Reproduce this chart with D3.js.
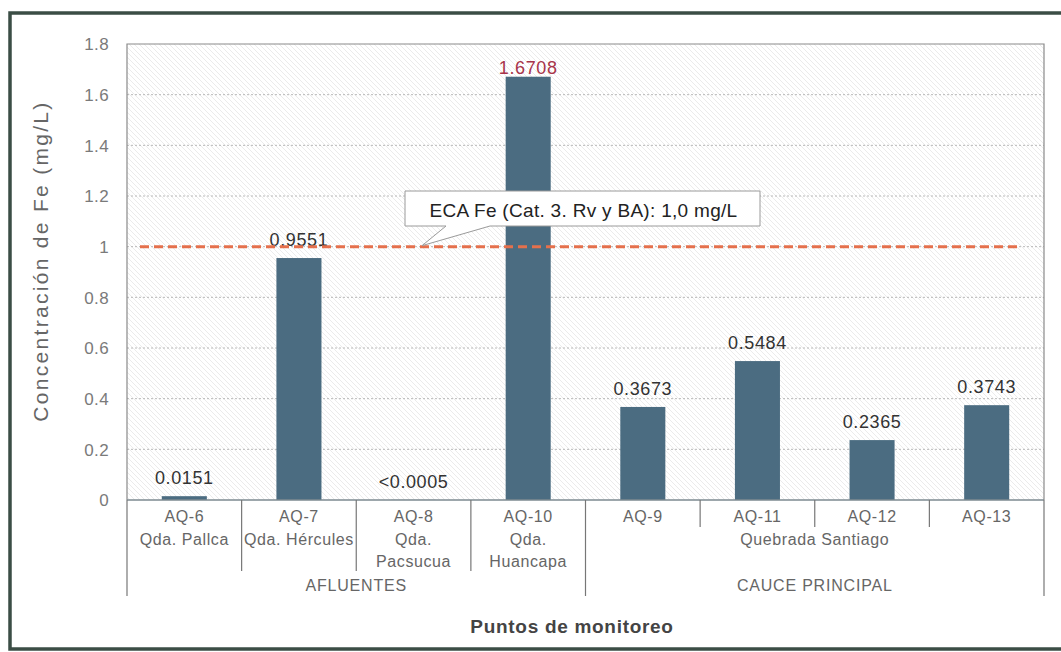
<!DOCTYPE html>
<html>
<head>
<meta charset="utf-8">
<script src="https://cdn.jsdelivr.net/npm/d3@7"></script>
<style>
  html, body { margin: 0; padding: 0; background: #fff; overflow: hidden; }
  svg { display: block; }
  text { font-family: "Liberation Sans", Arial, sans-serif; }
</style>
</head>
<body>
<svg id="chart" width="1061" height="652"></svg>
<script>
// Monitoring stations and dissolved iron concentration (mg/L)
const stations = ["AQ-6", "AQ-7", "AQ-8", "AQ-10", "AQ-9", "AQ-11", "AQ-12", "AQ-13"];
const values = [0.0151, 0.9551, 0.0005, 1.6708, 0.3673, 0.5484, 0.2365, 0.3743];
const valueLabels = ["0.0151", "0.9551", "<0.0005", "1.6708", "0.3673", "0.5484", "0.2365", "0.3743"];

// Stream names (second level) and how many stations each covers
const streamLabels = [["Qda. Pallca"], ["Qda. Hércules"], ["Qda.", "Pacsucua"], ["Qda.", "Huancapa"], ["Quebrada Santiago"]];
const streamSizes = [1, 1, 1, 1, 4];

// Top-level groups
const groupLabels = ["AFLUENTES", "CAUCE PRINCIPAL"];
const groupSizes = [4, 4];

// Y axis ticks
const yTicks = [0, 0.2, 0.4, 0.6, 0.8, 1, 1.2, 1.4, 1.6, 1.8];
const yTickLabels = ["0", "0.2", "0.4", "0.6", "0.8", "1", "1.2", "1.4", "1.6", "1.8"];

// Environmental quality standard
const limitValue = 1.0;
const limitLabel = "ECA Fe (Cat. 3. Rv y BA): 1,0 mg/L";

const yTitle = "Concentración de Fe (mg/L)";
const xTitle = "Puntos de monitoreo";

const svg = d3.select("#chart");
const plot = { left: 127, right: 1044, top: 44, bottom: 500 };

const x = d3.scaleBand()
  .domain(stations)
  .range([plot.left, plot.right])
  .paddingInner(0.607)
  .paddingOuter(0.3035);

const y = d3.scaleLinear().domain([0, 1.8]).range([plot.bottom, plot.top]);

// Outer frame (left, top and bottom edges)
svg.append("path")
  .attr("d", "M1061,13 H10 V649 H1061")
  .attr("fill", "none")
  .attr("stroke", "#3b4d45")
  .attr("stroke-width", 3.5);

// Hatched plot background
const defs = svg.append("defs");
const pat = defs.append("pattern")
  .attr("id", "hatch")
  .attr("patternUnits", "userSpaceOnUse")
  .attr("width", 5).attr("height", 5);
pat.append("path")
  .attr("d", "M-1,-1 L6,6 M-1,4 L1,6 M4,-1 L6,1")
  .attr("stroke", "#e3e3e3")
  .attr("stroke-width", 0.7);

svg.append("rect")
  .attr("x", plot.left).attr("y", plot.top)
  .attr("width", plot.right - plot.left)
  .attr("height", plot.bottom - plot.top)
  .attr("fill", "url(#hatch)");

// Gridlines
svg.append("g")
  .selectAll("line")
  .data(yTicks.filter(t => t > 0 && t < 1.8))
  .join("line")
  .attr("x1", plot.left).attr("x2", plot.right)
  .attr("y1", d => y(d)).attr("y2", d => y(d))
  .attr("stroke", "#b8b8b8")
  .attr("stroke-width", 1)
  .attr("stroke-dasharray", "2,2");

// Plot frame (left, top, right)
svg.append("path")
  .attr("d", `M${plot.left},${plot.bottom} V${plot.top} H${plot.right} V${plot.bottom}`)
  .attr("fill", "none")
  .attr("stroke", "#8a8a8a")
  .attr("stroke-width", 1.2);

// Y axis labels
const yAxis = d3.axisLeft(y)
  .tickValues(yTicks)
  .tickFormat((d, i) => yTickLabels[i])
  .tickSize(0)
  .tickPadding(18);
const yg = svg.append("g").attr("transform", `translate(${plot.left},0)`).call(yAxis);
yg.select(".domain").remove();
yg.selectAll("text")
  .attr("fill", "#7a7a7a")
  .style("font-size", "17px")
  .style("letter-spacing", "0.4px")
  .attr("dy", "0.35em");

// Bars
svg.append("g")
  .selectAll("rect")
  .data(values)
  .join("rect")
  .attr("x", (d, i) => x(stations[i]))
  .attr("y", d => y(d))
  .attr("width", x.bandwidth())
  .attr("height", d => plot.bottom - y(d))
  .attr("fill", "#4b6c81");

// Value labels
svg.append("g")
  .selectAll("text")
  .data(values)
  .join("text")
  .attr("x", (d, i) => x(stations[i]) + x.bandwidth() / 2)
  .attr("y", d => Math.max(y(d) - 12, 74))
  .attr("text-anchor", "middle")
  .attr("fill", d => d > limitValue ? "#a8344a" : "#333")
  .style("font-size", "18px")
  .style("letter-spacing", "0.6px")
  .text((d, i) => valueLabels[i]);

// X axis line
svg.append("line")
  .attr("x1", plot.left).attr("x2", plot.right)
  .attr("y1", plot.bottom).attr("y2", plot.bottom)
  .attr("stroke", "#7d8a90")
  .attr("stroke-width", 1.5);

// Limit line
svg.append("line")
  .attr("x1", 140).attr("x2", 1020)
  .attr("y1", y(limitValue)).attr("y2", y(limitValue))
  .attr("stroke", "#e5704c")
  .attr("stroke-width", 3)
  .attr("stroke-dasharray", "9,5");

// Callout for the limit
const ly = y(limitValue);
const box = { x0: 405, x1: 760, y0: 191, y1: 226 };
svg.append("path")
  .attr("d", `M${box.x0},${box.y0} H${box.x1} V${box.y1} H${490} L${422},${ly - 1} L${446},${box.y1} H${box.x0} Z`)
  .attr("fill", "#fff")
  .attr("stroke", "#9a9a9a")
  .attr("stroke-width", 1);
svg.append("text")
  .attr("x", (box.x0 + box.x1) / 2 + 1)
  .attr("y", 217)
  .attr("text-anchor", "middle")
  .attr("fill", "#222")
  .style("font-size", "19px")
  .style("letter-spacing", "0.3px")
  .text(limitLabel);

// Category axis: station names
const step = x.step();
const edge = i => plot.left + i * step;
const lbl = svg.append("g")
  .attr("fill", "#666")
  .style("font-size", "16px")
  .style("letter-spacing", "0.6px");

lbl.selectAll("text.station")
  .data(stations)
  .join("text")
  .attr("class", "station")
  .attr("x", d => x(d) + x.bandwidth() / 2)
  .attr("y", 522)
  .attr("text-anchor", "middle")
  .text(d => d);

// Stream names
let pos = 0;
streamLabels.forEach((lines, k) => {
  const cx = edge(pos + streamSizes[k] / 2);
  lines.forEach((t, j) => {
    lbl.append("text")
      .attr("x", cx).attr("y", 545 + j * 22)
      .attr("text-anchor", "middle")
      .text(t);
  });
  pos += streamSizes[k];
});

// Group names
pos = 0;
groupLabels.forEach((t, k) => {
  lbl.append("text")
    .attr("x", edge(pos + groupSizes[k] / 2))
    .attr("y", 591)
    .attr("text-anchor", "middle")
    .style("letter-spacing", "0.8px")
    .text(t);
  pos += groupSizes[k];
});

// Separator ticks: group edges are longest, stream edges medium, station edges short
const groupEdges = new Set([0]);
pos = 0; groupSizes.forEach(s => { pos += s; groupEdges.add(pos); });
const streamEdges = new Set([0]);
pos = 0; streamSizes.forEach(s => { pos += s; streamEdges.add(pos); });
const seps = d3.range(stations.length + 1).map(i => ({
  x: edge(i),
  y2: groupEdges.has(i) ? 596 : (streamEdges.has(i) ? 571 : 527)
}));
svg.append("g")
  .selectAll("line")
  .data(seps)
  .join("line")
  .attr("x1", d => d.x).attr("x2", d => d.x)
  .attr("y1", plot.bottom).attr("y2", d => d.y2)
  .attr("stroke", "#777")
  .attr("stroke-width", 1.2);

// Axis titles
svg.append("text")
  .attr("transform", "translate(48,261) rotate(-90)")
  .attr("text-anchor", "middle")
  .attr("fill", "#666")
  .style("font-size", "21px")
  .style("letter-spacing", "2.3px")
  .text(yTitle);

svg.append("text")
  .attr("x", 572).attr("y", 633)
  .attr("text-anchor", "middle")
  .attr("fill", "#444")
  .style("font-size", "19px")
  .style("font-weight", "bold")
  .style("letter-spacing", "0.7px")
  .text(xTitle);
</script>
</body>
</html>
